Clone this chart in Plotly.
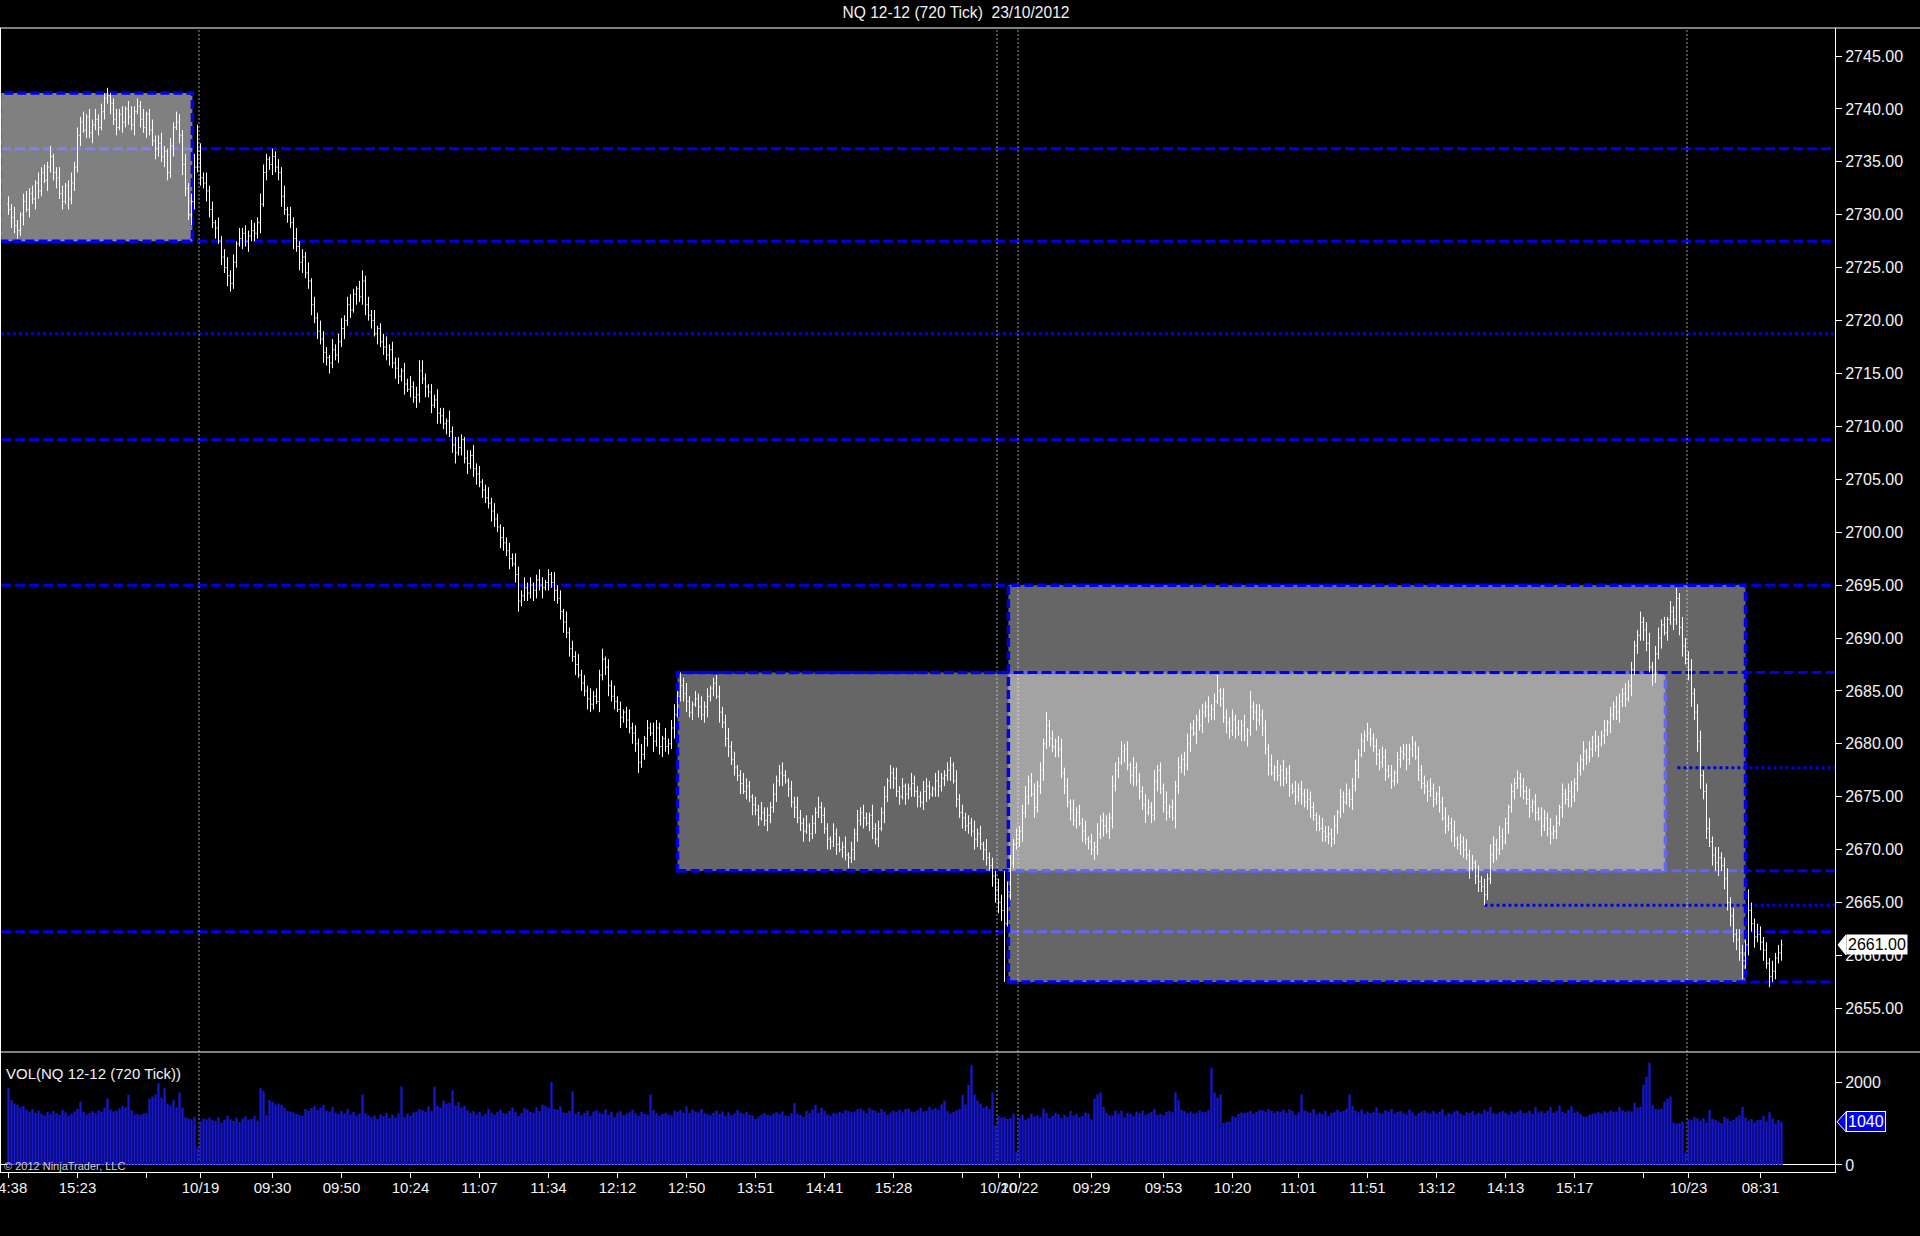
import plotly.graph_objects as go

# ------------------------------------------------------------------ data
# NQ 12-12, 720-tick bars (bar index 0 = first visible bar, 10/18 14:38)
bar_close = [
    2730.5, 2729.75, 2729.0, 2728.5, 2730.0, 2731.25, 2730.5, 2732.0, 2731.5, 2733.0,
    2732.25, 2734.0, 2733.25, 2734.5, 2735.5, 2734.0, 2733.5, 2732.0, 2731.25, 2732.75,
    2731.5, 2733.0, 2734.5, 2737.5, 2738.75, 2738.0, 2739.25, 2737.75, 2738.5, 2739.0,
    2738.25, 2739.75, 2741.0, 2741.25, 2740.5, 2739.0, 2738.25, 2739.5, 2738.75, 2740.0,
    2739.25, 2738.5, 2739.75, 2740.25, 2739.0, 2738.25, 2739.5, 2738.0, 2737.0, 2736.25,
    2736.75, 2735.5, 2736.0, 2734.0, 2736.5, 2738.25, 2738.75, 2737.5, 2734.75, 2732.5,
    2730.0, 2731.25, 2734.5, 2736.0, 2733.5, 2733.0, 2732.25, 2730.5, 2729.25, 2728.75,
    2727.5, 2726.0, 2725.0, 2724.25, 2723.5, 2725.5, 2727.25, 2727.75, 2728.25, 2727.5,
    2728.0, 2728.5, 2728.25, 2729.25, 2731.0, 2734.0, 2735.25, 2734.75, 2735.5, 2734.5,
    2734.0, 2731.75, 2730.5, 2730.0, 2729.25, 2727.75, 2727.0, 2725.5, 2726.0, 2724.5,
    2723.75, 2721.5, 2720.25, 2719.0, 2718.25, 2717.0, 2716.5, 2716.0, 2717.25, 2716.75,
    2718.0, 2719.25, 2720.0, 2721.5, 2721.0, 2722.5, 2723.0, 2722.25, 2723.75, 2721.5,
    2720.5, 2720.0, 2718.75, 2719.25, 2718.0, 2717.5, 2716.75, 2717.25, 2716.0, 2715.5,
    2714.75, 2715.25, 2714.0, 2713.5, 2713.75, 2712.75, 2713.0, 2715.25, 2714.5, 2713.75,
    2713.25, 2712.0, 2712.5, 2711.25, 2711.0, 2710.25, 2710.5, 2709.5, 2708.25, 2707.5,
    2708.0, 2708.75, 2707.0, 2706.5, 2707.25, 2706.0, 2705.5, 2704.75, 2704.0, 2703.25,
    2702.75, 2702.0, 2701.25, 2700.5, 2699.5, 2699.0, 2698.25, 2697.5, 2697.0, 2696.0,
    2693.5, 2694.0, 2694.75, 2694.25, 2695.0, 2694.5, 2695.5, 2695.0, 2694.75, 2695.25,
    2696.0, 2695.25, 2694.5, 2693.75, 2692.5, 2691.5, 2690.5, 2689.0, 2688.25, 2687.5,
    2686.5, 2685.75, 2685.0, 2684.25, 2683.75, 2684.5, 2684.0, 2686.5, 2688.0, 2687.25,
    2685.5, 2684.5, 2684.0, 2683.25, 2682.5, 2683.0, 2682.25, 2681.5, 2681.0, 2680.0,
    2678.25, 2679.0, 2680.5, 2681.5, 2681.0, 2680.25, 2681.5, 2679.75, 2680.5, 2679.75,
    2680.0, 2681.5, 2682.75, 2684.5, 2685.5, 2684.75, 2684.0, 2683.0, 2683.75, 2684.25,
    2683.5, 2682.75, 2683.5, 2684.5, 2685.25, 2685.75, 2684.5, 2683.0, 2682.0, 2680.5,
    2679.75, 2678.5, 2677.75, 2677.0, 2676.25, 2675.5, 2676.0, 2675.0, 2674.25, 2673.75,
    2673.0, 2673.5, 2672.75, 2673.25, 2674.0, 2675.25, 2676.5, 2677.25, 2677.0, 2676.5,
    2675.75, 2674.5, 2674.0, 2673.0, 2672.5, 2671.75, 2672.25, 2671.5, 2672.5, 2673.5,
    2674.0, 2673.25, 2672.0, 2671.0, 2670.75, 2671.5, 2670.5, 2670.0, 2670.25, 2669.5,
    2669.25, 2670.0, 2671.5, 2672.75, 2673.5, 2673.0, 2672.5, 2673.25, 2672.0, 2671.0,
    2672.0, 2673.5, 2675.0, 2676.5, 2677.25, 2676.75, 2675.5, 2675.0, 2676.0, 2675.25,
    2675.75, 2676.25, 2675.5, 2675.0, 2674.5, 2675.5, 2676.0, 2675.25, 2675.75, 2676.5,
    2676.0, 2676.75, 2677.0, 2677.5, 2678.0, 2676.5, 2674.75, 2673.5, 2673.0, 2672.25,
    2672.5, 2671.75, 2671.0, 2671.5, 2670.5, 2670.0, 2669.25, 2668.5, 2667.5, 2666.25,
    2665.0, 2664.25, 2663.0, 2666.0, 2668.75, 2670.5, 2671.0, 2671.75, 2673.5, 2675.0,
    2676.5, 2675.25, 2674.0, 2676.0, 2677.5, 2680.0, 2681.75, 2680.5, 2679.75, 2680.25,
    2679.5, 2677.25, 2676.0, 2674.5, 2673.75, 2672.75, 2673.5, 2672.5, 2671.75, 2671.0,
    2670.75, 2670.0, 2670.25, 2671.5, 2672.75, 2672.25, 2671.75, 2673.0, 2676.0, 2677.5,
    2678.25, 2679.25, 2679.5, 2678.0, 2677.0, 2677.75, 2676.5, 2675.5, 2674.25, 2673.5,
    2674.0, 2673.25, 2676.5, 2677.5, 2675.75, 2674.5, 2673.5, 2674.0, 2673.0, 2676.0,
    2677.75, 2678.5, 2678.0, 2680.0, 2681.5, 2681.0, 2682.25, 2681.75, 2683.0, 2683.5,
    2682.75, 2683.25, 2684.0, 2685.0, 2684.25, 2682.5, 2682.0, 2681.25, 2682.25, 2681.5,
    2681.0, 2681.75, 2680.75, 2681.25, 2683.5, 2683.0, 2682.25, 2682.75, 2681.5, 2679.5,
    2678.0, 2677.25, 2677.75, 2677.0, 2677.5, 2676.75, 2677.25, 2676.0, 2675.5, 2675.0,
    2675.75, 2675.25, 2674.5, 2674.75, 2674.0, 2673.25, 2672.5, 2672.0, 2671.75, 2671.25,
    2671.5, 2671.0, 2672.25, 2673.5, 2675.0, 2674.5, 2675.25, 2674.75, 2676.0, 2677.5,
    2679.0, 2680.25, 2680.75, 2681.0, 2680.5, 2679.75, 2679.0, 2678.25, 2678.75, 2677.5,
    2677.0, 2676.5, 2677.25, 2678.5, 2679.25, 2679.0, 2678.5, 2679.5, 2680.0, 2678.75,
    2677.5, 2676.25, 2676.0, 2675.5, 2675.75, 2674.75, 2675.25, 2674.5, 2673.0, 2672.25,
    2672.5, 2671.75, 2671.0, 2670.5, 2670.75, 2670.0, 2669.5, 2668.25, 2668.75, 2667.5,
    2667.0, 2666.5, 2665.75, 2667.25, 2669.5, 2670.5, 2670.0, 2671.25, 2670.75, 2672.5,
    2674.0, 2675.5, 2676.25, 2676.75, 2676.0, 2675.5, 2674.75, 2674.0, 2674.5, 2673.5,
    2673.0, 2672.25, 2673.0, 2672.0, 2671.5, 2671.75, 2672.5, 2674.0, 2675.25, 2674.75,
    2675.5, 2675.0, 2676.25, 2677.5, 2678.5, 2679.25, 2678.75, 2679.5, 2680.25, 2679.75,
    2680.0, 2680.75, 2681.25, 2682.0, 2682.75, 2683.5, 2683.0, 2684.0, 2684.75, 2684.25,
    2685.5, 2687.0, 2689.25, 2690.25, 2691.5, 2690.75, 2689.5, 2687.25, 2686.5, 2688.5,
    2690.0, 2691.25, 2690.5, 2691.75, 2692.5, 2691.75, 2693.75, 2691.0, 2689.25, 2688.0,
    2687.0, 2684.75, 2683.0, 2680.25, 2677.0, 2675.5, 2672.0, 2670.75, 2669.5, 2668.75,
    2669.25, 2668.5, 2667.25, 2665.0, 2663.75, 2662.0, 2661.5, 2660.25, 2659.5, 2661.0,
    2664.25, 2663.0, 2661.75, 2662.0, 2661.25, 2660.5, 2659.25, 2658.0, 2658.5, 2659.75,
    2660.25, 2661.0,
]
first_open = 2731.0

# how far each bar's high / low reaches beyond its open-close span (points)
wick_up = [
    0.75, 0.5, 1.0, 0.5, 0.25, 0.75, 1.0, 0.5, 0.75, 0.25, 1.0, 0.5, 0.75, 0.5, 1.0, 0.25,
    0.5, 1.0, 0.75, 0.25, 0.5, 1.0, 0.5, 0.75, 0.5, 1.0, 0.25, 0.75, 0.5, 1.0, 0.5, 0.75,
    0.5, 0.75, 0.25, 0.5, 1.0, 0.5, 0.75, 0.25, 0.75, 1.0, 0.5, 0.75, 0.5, 1.0, 0.25, 0.5,
    1.0, 0.5, 0.75, 1.0, 0.5, 0.25, 0.75, 0.5, 1.0, 0.75, 0.5, 1.0, 0.5, 0.75, 1.25, 0.5,
    0.75, 0.5, 1.0, 0.5, 0.75, 0.25, 1.0, 0.5, 0.75, 1.0, 0.5, 0.75, 0.25, 1.0, 0.5, 0.75,
    0.5, 1.0, 0.75, 0.5, 1.0, 0.75, 0.5, 0.25, 0.5, 0.5, 0.75, 0.5, 1.0, 0.25, 0.75, 0.5,
    1.0, 0.5, 0.75, 0.5, 1.0, 0.25, 0.75, 0.5, 1.0, 0.75, 0.5, 0.25, 1.0, 0.5, 0.75, 1.0,
    0.5, 0.75, 1.0, 0.5, 0.25, 0.75, 0.5, 0.5, 0.75, 0.5, 1.0, 0.25, 0.5, 0.75, 1.0, 0.5,
    0.75, 0.5, 1.0, 0.25, 0.75, 0.5, 1.0, 0.5, 0.75, 0.5, 1.0, 0.5, 0.25, 0.75, 0.5, 1.0,
    0.5, 0.75, 0.25, 1.0, 0.5, 0.75, 1.0, 0.5, 0.25, 0.75, 0.5, 1.0, 0.5, 0.75, 0.25, 0.5,
    1.0, 0.5, 0.75, 0.5, 0.25, 1.0, 0.5, 0.75, 0.5, 1.0, 0.75, 0.5, 1.0, 0.5, 0.75, 0.25,
    0.5, 1.0, 0.75, 0.25, 0.5, 0.25, 1.0, 0.5, 0.75, 0.25, 1.0, 0.5, 0.75, 0.5, 1.0, 0.5,
    0.75, 0.5, 1.0, 0.5, 0.75, 0.5, 1.0, 0.25, 0.75, 0.5, 1.0, 0.5, 0.75, 0.25, 0.5, 1.0,
    0.5, 0.75, 0.5, 1.0, 0.25, 0.75, 0.5, 1.0, 0.75, 0.5, 0.25, 1.0, 0.5, 0.75, 1.0, 0.5,
    0.5, 0.75, 1.0, 0.5, 0.25, 0.75, 0.5, 1.0, 0.5, 0.75, 0.25, 0.5, 0.75, 1.0, 0.5, 0.75,
    1.0, 0.5, 0.75, 0.25, 0.5, 1.0, 0.75, 0.5, 0.25, 0.75, 0.5, 1.0, 0.5, 0.75, 0.5, 1.0,
    0.5, 0.75, 1.0, 0.5, 0.25, 0.75, 0.5, 1.0, 0.75, 0.5, 1.0, 0.25, 0.75, 0.5, 1.0, 0.5,
    0.75, 0.5, 0.25, 1.0, 0.5, 0.75, 0.5, 1.0, 0.25, 0.75, 0.5, 1.0, 0.5, 0.75, 0.5, 0.25,
    1.0, 0.5, 0.75, 0.5, 1.0, 0.25, 0.75, 0.5, 1.0, 0.5, 0.75, 0.25, 0.5, 1.0, 0.75, 0.5,
    0.5, 1.0, 0.75, 0.5, 0.25, 0.75, 1.0, 0.5, 0.5, 0.75, 0.5, 0.25, 1.0, 0.5, 0.75, 0.5,
    0.75, 0.5, 1.0, 0.5, 0.75, 0.25, 1.0, 0.5, 0.75, 0.5, 1.0, 0.75, 0.5, 1.0, 0.75, 0.5,
    1.0, 0.5, 0.75, 1.0, 0.5, 0.75, 1.0, 0.5, 0.75, 0.5, 1.0, 0.5, 0.75, 0.25, 0.5, 1.0,
    0.5, 0.75, 0.25, 1.0, 0.5, 0.75, 0.5, 1.0, 0.25, 0.75, 0.5, 1.0, 0.5, 0.75, 1.0, 0.5,
    1.0, 0.75, 0.5, 1.0, 0.5, 0.75, 0.25, 1.0, 0.5, 0.75, 0.5, 1.0, 0.75, 0.5, 1.0, 0.5,
    0.75, 0.5, 1.0, 0.25, 0.75, 0.5, 1.0, 0.5, 0.75, 1.0, 0.5, 0.75, 0.5, 1.0, 0.75, 0.5,
    1.0, 0.5, 0.75, 0.5, 0.25, 1.0, 0.75, 0.5, 1.0, 0.5, 0.75, 0.5, 1.0, 0.25, 0.75, 0.5,
    0.75, 1.0, 0.5, 0.75, 0.5, 1.0, 0.25, 0.75, 0.5, 1.0, 0.5, 0.75, 0.25, 1.0, 0.5, 0.75,
    0.5, 1.0, 0.75, 0.5, 0.25, 0.75, 1.0, 0.5, 0.75, 0.5, 1.0, 0.25, 0.75, 0.5, 1.0, 0.5,
    0.75, 1.0, 0.5, 0.75, 0.5, 0.25, 0.5, 0.5, 0.75, 0.5, 1.0, 0.75, 0.5, 1.0, 0.25, 0.75,
    0.5, 0.75, 1.0, 0.5, 0.75, 0.25, 1.0, 0.5, 0.75, 0.5, 1.0, 0.5, 0.25, 0.75, 0.5, 1.0,
    0.75, 0.5, 1.0, 0.25, 0.75, 0.5, 1.0, 0.5, 0.75, 0.25, 1.0, 0.5, 0.75, 0.5, 1.0, 0.75,
    0.5, 1.0, 0.75, 0.5, 0.25, 0.75, 0.5, 0.5, 0.5, 0.75, 0.5, 1.0, 0.25, 0.75, 0.5, 1.0,
    0.75, 0.5, 1.0, 0.5, 0.75, 0.25, 1.0, 0.5, 0.75, 1.0, 0.5, 0.75, 0.5, 1.0, 0.25, 0.75,
    0.5, 1.0, 0.75, 0.5, 1.0, 0.25, 0.75, 0.5, 1.0, 0.75, 0.5, 1.0, 0.5, 0.75, 0.5, 0.5,
    1.0, 0.5, 0.75, 1.0, 0.5, 0.75, 1.0, 0.5, 0.75, 0.25, 1.0, 0.5, 0.75, 0.5, 1.0, 0.75,
    0.75, 1.0, 0.5, 0.75, 1.0, 0.5, 0.75, 1.0, 0.5, 0.75, 1.0, 0.5, 0.75, 1.0, 0.5, 0.75,
    0.5, 1.0, 0.75, 0.5, 1.0, 0.75, 0.5, 1.0, 0.75, 0.5, 0.75, 0.5, 1.0, 0.5, 0.75, 0.5,
]
wick_down = [
    0.5, 1.0, 0.75, 0.75, 0.5, 1.0, 0.25, 0.75, 0.5, 1.0, 0.75, 0.5, 0.25, 1.0, 0.5, 0.75,
    1.0, 0.5, 0.75, 0.25, 1.0, 0.5, 0.75, 0.5, 1.0, 0.25, 0.75, 0.5, 1.0, 0.5, 0.75, 0.25,
    0.75, 0.5, 1.0, 0.5, 0.75, 0.25, 1.0, 0.5, 0.75, 0.5, 1.0, 0.25, 0.75, 0.5, 1.0, 0.5,
    0.5, 1.0, 0.75, 0.5, 1.0, 0.75, 0.5, 1.0, 0.25, 0.75, 1.0, 0.75, 0.5, 1.0, 0.75, 0.5,
    0.75, 0.5, 1.0, 0.75, 0.5, 1.0, 0.25, 0.75, 0.5, 1.0, 0.5, 0.5, 0.5, 0.25, 1.0, 0.5,
    1.0, 0.5, 0.75, 0.5, 1.0, 0.25, 0.75, 0.5, 1.0, 0.5, 0.75, 1.0, 0.5, 0.75, 0.5, 1.0,
    0.5, 0.75, 1.0, 0.5, 0.75, 1.0, 0.5, 0.75, 0.5, 1.0, 0.75, 0.5, 0.5, 0.5, 0.75, 0.5,
    1.0, 0.5, 0.75, 0.25, 1.0, 0.5, 0.75, 1.0, 0.5, 0.75, 0.25, 1.0, 0.5, 0.75, 0.5, 1.0,
    0.5, 1.0, 0.75, 0.5, 1.0, 0.25, 0.75, 0.5, 1.0, 0.75, 0.5, 1.0, 0.5, 0.75, 0.25, 1.0,
    0.75, 0.5, 1.0, 0.5, 0.75, 1.0, 0.25, 0.75, 0.5, 1.0, 0.5, 0.75, 1.0, 0.5, 0.75, 0.5,
    0.5, 1.0, 0.75, 0.5, 1.0, 0.75, 0.5, 1.0, 0.25, 0.75, 0.5, 0.5, 0.5, 0.75, 0.5, 1.0,
    0.75, 0.5, 1.0, 0.25, 0.75, 0.5, 1.0, 0.5, 0.75, 1.0, 0.5, 0.75, 0.5, 1.0, 0.25, 0.75,
    0.5, 1.0, 0.75, 0.5, 0.25, 1.0, 0.5, 0.75, 1.0, 0.5, 0.75, 0.25, 1.0, 0.5, 0.75, 0.5,
    1.0, 0.75, 0.5, 0.5, 0.5, 0.75, 0.25, 1.0, 0.5, 0.75, 1.0, 0.5, 0.75, 0.5, 1.0, 0.25,
    0.5, 0.75, 1.0, 0.5, 0.75, 0.25, 1.0, 0.5, 0.75, 1.0, 0.5, 0.75, 0.25, 1.0, 0.5, 0.75,
    1.0, 0.5, 0.75, 0.5, 1.0, 0.25, 0.75, 0.5, 1.0, 0.5, 0.75, 0.25, 0.5, 1.0, 0.75, 0.5,
    0.75, 0.5, 1.0, 0.25, 0.75, 0.5, 1.0, 0.5, 0.75, 1.0, 0.25, 0.75, 0.5, 1.0, 0.5, 0.75,
    0.5, 1.0, 0.75, 0.5, 1.0, 0.25, 0.75, 0.5, 0.75, 0.5, 1.0, 0.75, 0.5, 1.0, 0.25, 0.75,
    1.0, 0.5, 0.75, 0.25, 1.0, 0.5, 0.75, 1.0, 0.5, 0.75, 0.25, 1.0, 0.5, 0.75, 0.5, 1.0,
    0.5, 0.75, 1.0, 0.5, 0.25, 0.75, 1.0, 0.5, 0.75, 0.5, 1.0, 0.25, 0.75, 0.5, 1.0, 0.5,
    0.75, 0.5, 1.0, 0.75, 0.5, 1.0, 0.75, 0.5, 1.0, 1.25, 1.0, 1.0, 1.0, 0.25, 0.75, 0.5,
    0.5, 0.75, 1.0, 0.5, 0.75, 0.25, 1.0, 0.5, 0.75, 1.0, 0.5, 0.75, 0.5, 1.0, 0.75, 0.5,
    0.75, 0.5, 1.0, 0.5, 0.75, 0.25, 1.0, 0.5, 0.75, 0.5, 0.5, 0.75, 0.5, 1.0, 0.25, 0.75,
    1.0, 0.5, 0.75, 0.25, 1.0, 0.5, 0.75, 1.0, 0.5, 0.75, 0.5, 1.0, 0.25, 0.75, 0.5, 1.0,
    0.5, 1.0, 0.75, 0.5, 0.25, 1.0, 0.75, 0.5, 1.0, 0.5, 0.75, 0.25, 1.0, 0.5, 0.75, 0.5,
    0.75, 0.5, 1.0, 0.25, 0.75, 0.5, 1.0, 0.75, 0.5, 1.0, 0.25, 0.75, 0.5, 1.0, 0.5, 0.75,
    1.0, 0.5, 0.75, 0.5, 1.0, 0.25, 0.75, 0.5, 1.0, 0.75, 0.5, 1.0, 0.25, 0.75, 0.5, 1.0,
    0.5, 0.75, 1.0, 0.5, 0.75, 0.25, 1.0, 0.5, 0.75, 0.5, 0.5, 0.75, 0.5, 1.0, 0.25, 0.75,
    1.0, 0.5, 0.75, 0.25, 1.0, 0.5, 0.75, 0.5, 1.0, 0.75, 0.5, 1.0, 0.25, 0.75, 0.5, 1.0,
    0.75, 0.5, 1.0, 0.5, 0.75, 0.25, 1.0, 0.5, 0.75, 1.0, 0.5, 0.75, 0.5, 1.0, 0.25, 0.75,
    0.5, 1.0, 0.75, 0.5, 1.0, 0.75, 0.5, 1.0, 0.25, 0.75, 1.0, 0.5, 1.0, 0.5, 0.5, 0.75,
    1.0, 0.5, 0.75, 0.25, 1.0, 0.5, 0.75, 0.5, 1.0, 0.75, 0.5, 1.0, 0.5, 0.75, 0.25, 1.0,
    0.5, 0.75, 1.0, 0.5, 0.75, 0.25, 1.0, 0.5, 0.75, 1.0, 0.5, 0.75, 0.5, 1.0, 0.75, 0.5,
    0.75, 0.5, 1.0, 0.25, 0.75, 0.5, 1.0, 0.5, 0.75, 1.0, 0.5, 0.75, 0.25, 1.0, 0.5, 0.75,
    0.5, 1.0, 0.75, 0.5, 1.0, 0.75, 0.5, 1.0, 0.25, 0.75, 0.5, 1.0, 0.5, 0.75, 1.0, 0.5,
    1.0, 1.25, 0.75, 1.0, 1.25, 0.75, 1.0, 0.5, 1.0, 0.75, 1.25, 0.5, 1.0, 0.75, 1.0, 0.75,
    1.0, 0.75, 1.0, 0.75, 1.0, 0.75, 1.0, 0.5, 0.75, 1.0, 0.5, 1.0, 0.5, 0.75, 0.5, 0.75,
]
# swing highs / lows (bar index -> price)
swing_high = {33: 2742.0, 63: 2738.5, 88: 2736.25, 118: 2724.75, 137: 2716.25,
              180: 2696.5, 198: 2689.0, 224: 2686.75, 314: 2678.75, 332: 2668.0,
              346: 2683.0, 403: 2686.5, 414: 2685.0, 453: 2682.0, 503: 2677.5,
              544: 2692.5, 556: 2694.75, 580: 2666.25}
swing_low = {3: 2727.75, 74: 2722.75, 107: 2715.0, 170: 2692.5, 210: 2677.25,
             280: 2668.25, 332: 2657.5, 362: 2669.0, 441: 2670.25, 492: 2664.75,
             578: 2657.75, 587: 2657.0}

volume = [
    1850, 1560, 1480, 1450, 1390, 1420, 1330, 1290, 1350, 1260, 1310, 1240, 1200, 1280, 1230, 1300,
    1250, 1210, 1330, 1270, 1190, 1240, 1290, 1350, 1530, 1280, 1220, 1260, 1300, 1250, 1320, 1290,
    1380, 1600, 1340, 1290, 1310, 1360, 1420, 1390, 1690, 1320, 1220, 1230, 1210, 1240, 1250, 1600,
    1650, 1700, 1970, 1620, 1850, 1480, 1420, 1560, 1390, 1750, 1380, 1150, 1120, 1100, 1160, 410,
    1050, 1120, 1100, 1140, 1080, 1060, 1150, 1020, 1090, 1180, 1100, 1060, 1140, 1030, 1120, 1170,
    1090, 1110, 1180, 1070, 1850, 1780, 1200, 1570, 1520, 1460, 1480, 1450, 1380, 1300, 1290, 1270,
    1230, 1210, 1180, 1350, 1300, 1370, 1420, 1330, 1380, 1450, 1310, 1290, 1400, 1260, 1230, 1300,
    1240, 1350, 1220, 1280, 1190, 1230, 1700, 1250, 1200, 1150, 1190, 1110, 1220, 1180, 1250, 1130,
    1210, 1150, 1240, 1890, 1160, 1230, 1180, 1270, 1290, 1350, 1320, 1280, 1410, 1300, 1890, 1420,
    1380, 1550, 1470, 1500, 1800, 1430, 1510, 1390, 1420, 1320, 1250, 1300, 1220, 1280, 1190, 1230,
    1350, 1260, 1210, 1280, 1330, 1250, 1240, 1310, 1390, 1270, 1180, 1250, 1370, 1340, 1280, 1260,
    1390, 1300, 1450, 1420, 1380, 2000, 1350, 1330, 1410, 1270, 1250, 1300, 1780, 1230, 1280, 1200,
    1250, 1310, 1180, 1290, 1320, 1260, 1230, 1340, 1210, 1280, 1150, 1260, 1300, 1200, 1240, 1270,
    1330, 1250, 1190, 1280, 1230, 1210, 1700, 1320, 1250, 1190, 1230, 1260, 1220, 1200, 1310, 1280,
    1330, 1260, 1410, 1250, 1340, 1290, 1270, 1350, 1240, 1230, 1200, 1260, 1310, 1230, 1290, 1180,
    1270, 1200, 1240, 1330, 1260, 1230, 1280, 1210, 1190, 1110, 1170, 1220, 1250, 1210, 1190, 1240,
    1270, 1230, 1290, 1200, 1180, 1250, 1490, 1230, 1210, 1160, 1300, 1250, 1340, 1450, 1260, 1380,
    1300, 1220, 1180, 1260, 1240, 1280, 1250, 1320, 1300, 1270, 1290, 1340, 1360, 1310, 1250, 1370,
    1330, 1300, 1260, 1350, 1290, 1210, 1260, 1310, 1280, 1330, 1270, 1350, 1360, 1290, 1270, 1320,
    1380, 1290, 1310, 1400, 1340, 1370, 1330, 1460, 1550, 1300, 1240, 1280, 1320, 1350, 1690, 1460,
    1930, 2410, 1700, 1550, 1480, 1380, 1420, 1350, 1750, 960, 1180, 1140, 1160, 1110, 1130, 1240,
    320, 1150, 1210, 1090, 1130, 1240, 1170, 1200, 1150, 1360, 1260, 1130, 1190, 1250, 1220, 1130,
    1210, 1160, 1300, 1190, 1230, 1150, 1180, 1260, 1240, 1100, 1600, 1700, 1750, 1400, 1260, 1200,
    1190, 1310, 1240, 1310, 1150, 1260, 1230, 1180, 1290, 1250, 1310, 1210, 1240, 1280, 1350, 1210,
    1230, 1200, 1280, 1300, 1270, 1750, 1560, 1330, 1300, 1250, 1290, 1240, 1260, 1310, 1280, 1270,
    1330, 2340, 1750, 1620, 1700, 1010, 1040, 1050, 1180, 1150, 1230, 1260, 1250, 1270, 1300, 1240,
    1280, 1330, 1320, 1290, 1350, 1310, 1260, 1300, 1280, 1330, 1250, 1340, 1300, 1210, 1270, 1700,
    1310, 1290, 1260, 1350, 1220, 1260, 1230, 1300, 1190, 1250, 1270, 1330, 1280, 1300, 1360, 1700,
    1420, 1310, 1270, 1340, 1230, 1290, 1250, 1270, 1390, 1260, 1230, 1320, 1290, 1350, 1240, 1280,
    1300, 1260, 1220, 1340, 1270, 1190, 1250, 1290, 1310, 1260, 1230, 1300, 1240, 1280, 1350, 1200,
    1260, 1230, 1290, 1310, 1240, 1200, 1270, 1250, 1300, 1220, 1260, 1230, 1330, 1290, 1400, 1250,
    1230, 1270, 1300, 1260, 1220, 1290, 1240, 1280, 1320, 1250, 1260, 1310, 1240, 1400, 1270, 1300,
    1250, 1310, 1400, 1260, 1300, 1430, 1280, 1250, 1330, 1410, 1260, 1290, 1230, 1170, 1160, 1210,
    1230, 1250, 1270, 1240, 1300, 1260, 1310, 1280, 1290, 1400, 1320, 1280, 1310, 1290, 1500, 1380,
    1400, 1930, 2130, 2465, 1450, 1350, 1340, 1360, 1530, 1600, 1650, 1020, 1000, 1010, 1050, 300,
    1100, 1080, 1150, 1120, 1070, 1130, 1020, 1320, 1110, 1090, 1040, 1010, 1160, 1120, 1060, 1090,
    1150, 1200, 1400, 1140, 1070, 1110, 1020, 1080, 1090, 1180, 1050, 1270, 1120, 1000, 1090, 1040,
]

# first bar of each new session (10/19, 10/20, 10/22, 10/23)
session_start_bar = [64, 330, 337, 560]

tick_bars = [0, 23, 46, 64, 88, 111, 134, 157, 180, 203, 226, 249, 272, 295, 318,
             330, 337, 361, 385, 408, 430, 453, 476, 499, 522, 545, 560, 584]
tick_labels = ["14:38", "15:23", "", "10/19", "09:30", "09:50", "10:24", "11:07",
               "11:34", "12:12", "12:50", "13:51", "14:41", "15:28", "", "10/20",
               "10/22", "09:29", "09:53", "10:20", "11:01", "11:51", "13:12",
               "14:13", "15:17", "", "10/23", "08:31"]

# price levels (drawn as horizontal rays)
level_full_dash = [2736.25, 2727.5, 2708.75, 2695.0, 2662.25]
level_full_dot = [2718.75]
ray_dash_price_under = [2668.0, 2657.5]
ray_dash_from_under = [223, 333.3]
ray_dash_price_over = [2686.75]
ray_dash_from_over = [223]
ray_dot_price = [2677.75, 2664.75]
ray_dot_from = [556.3, 492]

# value zones (rectangles)
zone_from_bar = [-3, 223, 333.3]
zone_to_bar = [61.3, 552.3, 579]
zone_high = [2741.5, 2686.75, 2695.0]
zone_low = [2727.5, 2668.0, 2657.5]

title_text = "NQ 12-12 (720 Tick) \u00a023/10/2012"
vol_title = "VOL(NQ 12-12 (720 Tick))"
copyright_text = "\u00a9 2012 NinjaTrader, LLC"

# ------------------------------------------------------------------ layout constants
W, H = 1920, 1236
ML, MR, MT, MB = 1, 85, 28, 64
PW, PH = W - ML - MR, H - MT - MB
SPLIT_PX = 1052
VOL_FRAC = (H - MB - SPLIT_PX) / PH
X0 = -2.5
X1 = X0 + PW / 3.0
PRICE_RANGE = [2650.88, 2747.65]
VOL_RANGE = [-169, 2723]
FONT = "Liberation Sans, Arial, sans-serif"
TXT = "#f2f2f2"
BLUE = "rgb(0,0,235)"


def px_x(px):
    return (px - ML) / PW


def px_y(py):
    return (H - MB - py) / PH


# ------------------------------------------------------------------ derived series
n = min(len(bar_close), len(wick_up), len(wick_down), len(volume))
idx = list(range(n))
bar_open = [first_open] + bar_close[: n - 1]
bar_high, bar_low = [], []
for i in range(n):
    o, c = bar_open[i], bar_close[i]
    bar_high.append(swing_high.get(i, max(o, c) + wick_up[i]))
    bar_low.append(swing_low.get(i, min(o, c) - wick_down[i]))

fig = go.Figure()
fig.add_trace(go.Ohlc(
    x=idx, open=bar_open, high=bar_high, low=bar_low, close=bar_close[:n],
    increasing=dict(line=dict(color="white", width=1)),
    decreasing=dict(line=dict(color="white", width=1)),
    tickwidth=0.34, xaxis="x", yaxis="y", showlegend=False, hoverinfo="skip",
))
fig.add_trace(go.Bar(
    x=idx, y=volume[:n], marker=dict(color="rgb(22,22,212)", line=dict(width=0)),
    xaxis="x2", yaxis="y2", showlegend=False, hoverinfo="skip",
))

shapes = []
DASH = "10px,4px"
DOT = "3px,3px"


def full_line(p, dash):
    return dict(type="line", xref="paper", yref="y", x0=0, x1=1, y0=p, y1=p,
                line=dict(color=BLUE, width=3, dash=dash), layer="below")


def ray(p, start, dash):
    return dict(type="line", xref="x", yref="y", x0=start, x1=X1, y0=p, y1=p,
                line=dict(color=BLUE, width=3, dash=dash), layer="below")


for p in level_full_dash:
    shapes.append(full_line(p, DASH))
for p in level_full_dot:
    shapes.append(full_line(p, DOT))
for p, s in zip(ray_dash_price_under, ray_dash_from_under):
    shapes.append(ray(p, s, DASH))

zone_fill = ["rgba(255,255,255,0.5)", "rgba(255,255,255,0.4)", "rgba(255,255,255,0.4)"]
for k in range(len(zone_high)):
    shapes.append(dict(type="rect", xref="x", yref="y",
                       x0=zone_from_bar[k], x1=zone_to_bar[k],
                       y0=zone_low[k], y1=zone_high[k],
                       fillcolor=zone_fill[k],
                       line=dict(color=BLUE, width=3.5, dash="9px,4px"),
                       layer="below"))

for p, s in zip(ray_dash_price_over, ray_dash_from_over):
    shapes.append(ray(p, s, DASH))
for p, s in zip(ray_dot_price, ray_dot_from):
    shapes.append(ray(p, s, DOT))

# session separators
for s in session_start_bar:
    shapes.append(dict(type="line", xref="x", yref="paper", x0=s - 0.5, x1=s - 0.5,
                       y0=px_y(1160), y1=1,
                       line=dict(color="rgb(150,150,150)", width=1, dash="2px,2px"),
                       layer="below"))

# panel frame lines across the full width
for py in (MT, SPLIT_PX):
    shapes.append(dict(type="line", xref="paper", yref="paper",
                       x0=px_x(0), x1=px_x(W), y0=px_y(py), y1=px_y(py),
                       line=dict(color="white", width=1), layer="above"))

# last price / last volume markers on the right axes
last_price = bar_close[n - 1]
last_vol = volume[n - 1]
tip, base = px_x(1838), px_x(1846)
hp = 10 / (PH * (1 - VOL_FRAC) / (PRICE_RANGE[1] - PRICE_RANGE[0]))
shapes.append(dict(type="path", xref="paper", yref="y",
                   path=f"M {tip},{last_price} L {base},{last_price + hp} L {base},{last_price - hp} Z",
                   fillcolor="white", line=dict(color="white", width=1), layer="above"))
hv = 10 / (PH * VOL_FRAC / (VOL_RANGE[1] - VOL_RANGE[0]))
shapes.append(dict(type="path", xref="paper", yref="y2",
                   path=f"M {px_x(1837)},{last_vol} L {base},{last_vol + hv} L {base},{last_vol - hv} Z",
                   fillcolor="rgb(0,0,230)", line=dict(color="white", width=1), layer="above"))

annotations = [
    dict(text=vol_title, xref="paper", yref="paper", x=px_x(4), y=px_y(1073),
         xanchor="left", yanchor="middle", showarrow=False,
         font=dict(family=FONT, size=15, color=TXT)),
    dict(text=copyright_text, xref="paper", yref="paper", x=px_x(2), y=px_y(1166),
         xanchor="left", yanchor="middle", showarrow=False,
         font=dict(family=FONT, size=11, color="#d0d0d0")),
    dict(text=f"{last_price:.2f}", xref="paper", yref="y", x=base, y=last_price,
         xanchor="left", yanchor="middle", showarrow=False, bgcolor="white",
         borderpad=1, font=dict(family=FONT, size=16, color="black")),
    dict(text=f"{last_vol}", xref="paper", yref="y2", x=base, y=last_vol,
         xanchor="left", yanchor="middle", showarrow=False, bgcolor="rgb(0,0,230)",
         bordercolor="white", borderwidth=1, borderpad=1,
         font=dict(family=FONT, size=16, color="white")),
]

fig.update_layout(
    width=W, height=H,
    margin=dict(l=ML, r=MR, t=MT, b=MB, pad=0, autoexpand=False),
    paper_bgcolor="black", plot_bgcolor="black",
    font=dict(family=FONT, color=TXT),
    title=dict(text=title_text, x=956 / W, xref="container", xanchor="center",
               y=1 - 13 / H, yref="container", yanchor="middle",
               font=dict(family=FONT, size=15.6, color=TXT), automargin=False),
    showlegend=False, hovermode=False, bargap=0.25,
    xaxis=dict(domain=[0, 1], anchor="y", range=[X0, X1], showticklabels=False,
               showgrid=False, zeroline=False, showline=False, ticks="",
               automargin=False, rangeslider=dict(visible=False)),
    xaxis2=dict(domain=[0, 1], anchor="y2", range=[X0, X1], matches="x",
                showgrid=False, zeroline=False, showline=True, linecolor="white",
                linewidth=1, tickmode="array", tickvals=tick_bars, ticktext=tick_labels,
                ticks="outside", ticklen=5, tickcolor="white", tickwidth=1,
                tickangle=0, ticklabeloverflow="allow", ticklabelstandoff=-3,
                automargin=False,
                tickfont=dict(family=FONT, size=15, color=TXT)),
    yaxis=dict(domain=[VOL_FRAC, 1], anchor="x", side="right", range=PRICE_RANGE,
               showgrid=False, zeroline=False, showline=True, mirror=True,
               linecolor="white", linewidth=1, tick0=2655, dtick=5,
               tickformat=".2f", ticks="outside", ticklen=6, tickcolor="white",
               automargin=False,
               tickfont=dict(family=FONT, size=16, color=TXT)),
    yaxis2=dict(domain=[0, VOL_FRAC], anchor="x2", side="right", range=VOL_RANGE,
                showgrid=False, zeroline=True, zerolinecolor="white", zerolinewidth=1,
                showline=True, mirror=True, linecolor="white", linewidth=1,
                tickmode="array", tickvals=[0, 2000], ticks="outside", ticklen=6,
                automargin=False,
                tickcolor="white", tickfont=dict(family=FONT, size=16, color=TXT)),
    shapes=shapes,
    annotations=annotations,
)

fig.write_html(
    "out.html",
    config={"displayModeBar": False, "staticPlot": True},
    post_script="document.body.style.margin='0px';document.body.style.overflow='hidden';",
)
